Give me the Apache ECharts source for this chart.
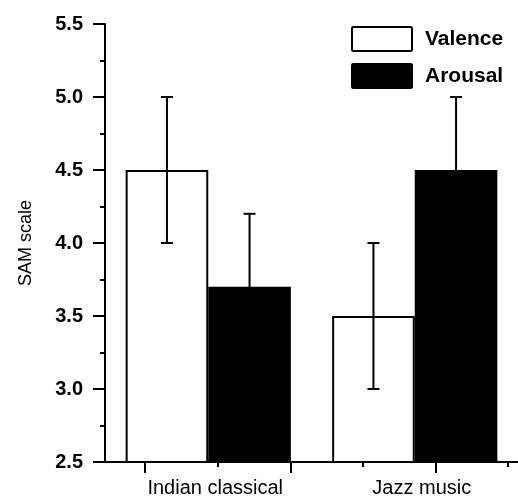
<!DOCTYPE html>
<html>
<head>
<meta charset="utf-8">
<script src="https://cdn.jsdelivr.net/npm/echarts@6/dist/echarts.min.js"></script>
<style>html,body{margin:0;padding:0;background:#fff;}#c{width:518px;height:498px;}</style>
</head>
<body>
<div id="c"></div>
<script>
var categories = ['Indian classical', 'Jazz music'];
var seriesNames = ['Valence', 'Arousal'];
var valence = [4.5, 3.5];
var valenceErr = [0.5, 0.5];
var arousal = [3.7, 4.5];
var arousalErr = [0.5, 0.5];
var yTicks = [2.5, 3.0, 3.5, 4.0, 4.5, 5.0, 5.5];
// decorative x tick positions (in tick-axis units)
var xMajorTicks = [0.55, 2.55, 4.55];
var xMinorTicks = [1.55, 3.55, 5.55];
var xTickAxisMax = 5.685;

var FONT = '"Liberation Sans", Arial, sans-serif';
var chart = echarts.init(document.getElementById('c'));

function errSeries(name, vals, errs, offsetIdx) {
  var data = vals.map(function (v, i) { return [i, v, v - errs[i], v + errs[i]]; });
  return {
    type: 'custom',
    name: name + ' err',
    xAxisIndex: 0,
    z: 10,
    silent: true,
    data: data,
    renderItem: function (params, api) {
      var band = api.size([1, 0])[0];
      var cx = api.coord([api.value(0), api.value(1)])[0] + (offsetIdx === 0 ? -0.2 : 0.2) * band;
      var lo = api.coord([api.value(0), api.value(2)])[1];
      var hi = api.coord([api.value(0), api.value(3)])[1];
      var cap = 6;
      var st = { stroke: '#000', lineWidth: 2 };
      return {
        type: 'group',
        children: [
          { type: 'line', shape: { x1: cx, y1: lo, x2: cx, y2: hi }, style: st },
          { type: 'line', shape: { x1: cx - cap, y1: hi, x2: cx + cap, y2: hi }, style: st },
          { type: 'line', shape: { x1: cx - cap, y1: lo, x2: cx + cap, y2: lo }, style: st }
        ]
      };
    }
  };
}

var option = {
  animation: false,
  backgroundColor: '#fff',
  grid: { left: 105, right: 0, top: 24, bottom: 36, containLabel: false },
  legend: {
    data: seriesNames,
    orient: 'vertical',
    left: 351,
    top: 26,
    padding: 0,
    itemWidth: 62,
    itemHeight: 24,
    itemGap: 11,
    icon: 'path://M2,0 L98,0 Q100,0 100,2 L100,38 Q100,40 98,40 L2,40 Q0,40 0,38 L0,2 Q0,0 2,0 Z',
    textStyle: { fontFamily: FONT, fontSize: 21, fontWeight: 'bold', color: '#000', padding: [0, 0, 0, 7] }
  },
  xAxis: [
    {
      type: 'category',
      data: categories,
      axisLine: { lineStyle: { color: '#000', width: 2 } },
      axisTick: { show: false },
      axisLabel: { fontFamily: FONT, fontSize: 20, color: '#000', margin: 16, padding: [0, 0, 0, 14] }
    },
    {
      type: 'value',
      min: 0,
      max: xTickAxisMax,
      position: 'bottom',
      axisLine: { show: false },
      axisLabel: { show: false },
      splitLine: { show: false },
      axisTick: { show: true, length: 11, customValues: xMajorTicks, lineStyle: { color: '#000', width: 2 } }
    },
    {
      type: 'value',
      min: 0,
      max: xTickAxisMax,
      position: 'bottom',
      axisLine: { show: false },
      axisLabel: { show: false },
      splitLine: { show: false },
      axisTick: { show: true, length: 5, customValues: xMinorTicks, lineStyle: { color: '#000', width: 2 } }
    }
  ],
  yAxis: {
    type: 'value',
    min: yTicks[0],
    max: yTicks[yTicks.length - 1],
    interval: 0.5,
    name: 'SAM scale',
    nameLocation: 'middle',
    nameGap: 70,
    nameTextStyle: { fontFamily: FONT, fontSize: 18, color: '#000' },
    axisLine: { show: true, lineStyle: { color: '#000', width: 2 } },
    axisTick: { show: true, length: 12, lineStyle: { color: '#000', width: 2 } },
    minorTick: { show: true, splitNumber: 2, length: 5, lineStyle: { color: '#000', width: 2 } },
    splitLine: { show: false },
    axisLabel: {
      fontFamily: FONT, fontSize: 20, fontWeight: 'bold', color: '#000', margin: 22,
      formatter: function (v) { return v.toFixed(1); }
    }
  },
  series: [
    {
      type: 'bar', name: seriesNames[0], data: valence, barWidth: '40%', barGap: '0%',
      itemStyle: { color: '#fff', borderColor: '#000', borderWidth: 2 }
    },
    {
      type: 'bar', name: seriesNames[1], data: arousal, barWidth: '40%', barGap: '0%',
      itemStyle: { color: '#000', borderColor: '#000', borderWidth: 2 }
    },
    errSeries(seriesNames[0], valence, valenceErr, 0),
    errSeries(seriesNames[1], arousal, arousalErr, 1)
  ]
};
chart.setOption(option);
</script>
</body>
</html>
